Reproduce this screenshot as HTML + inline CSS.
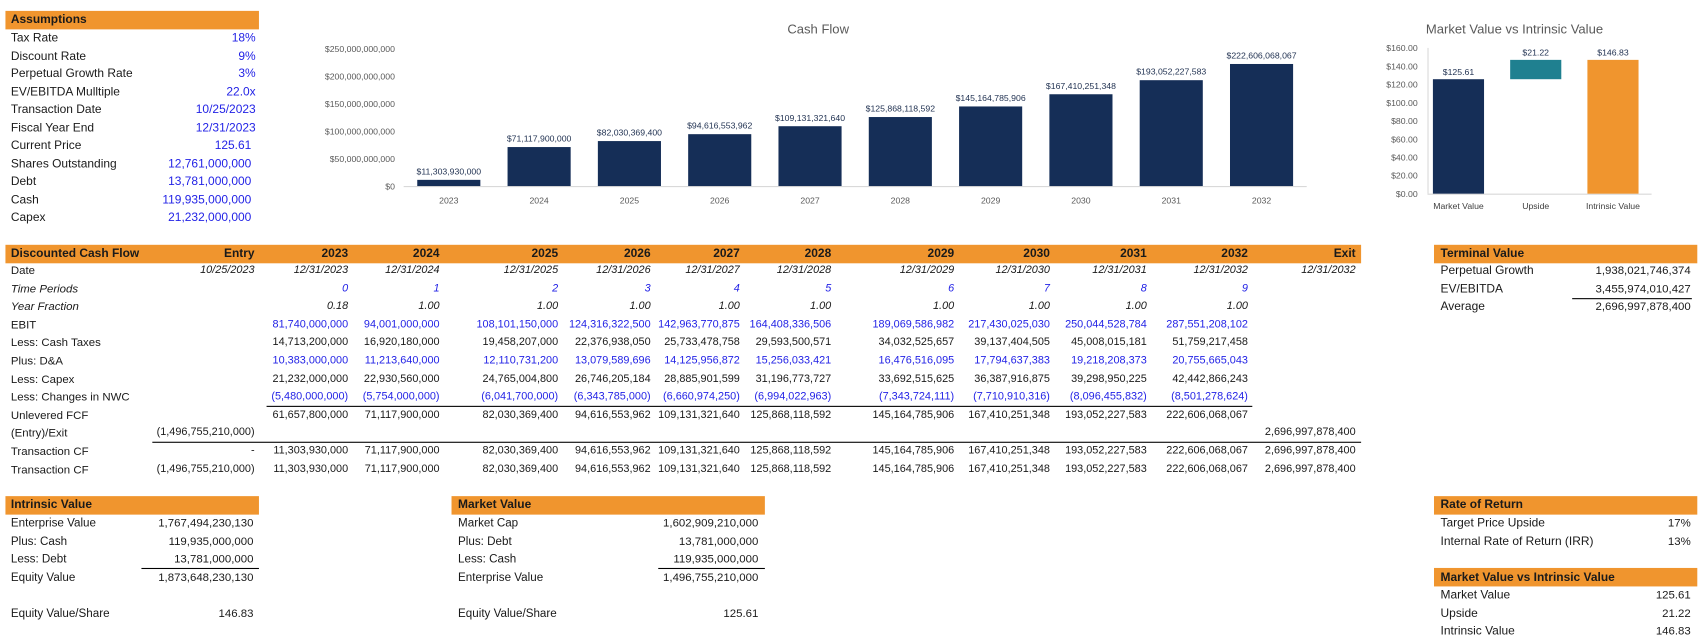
<!DOCTYPE html>
<html><head><meta charset="utf-8">
<style>
body{margin:0;width:1706px;height:643px;background:#fff;position:relative;overflow:hidden;font-family:"Liberation Sans",sans-serif;font-size:10.5px;color:#1a1a1a}
#wrap{position:absolute;left:0;top:0;width:1568px;height:591px;transform:scale(1.08801);transform-origin:0 0}
.t{position:absolute;white-space:nowrap;line-height:14px}
.hd{position:absolute;background:#f0952e;height:17px}
.ln{position:absolute;height:1px;background:#000}
.b{color:#2323e6}
svg text{font-family:"Liberation Sans",sans-serif}
</style></head>
<body>
<div id="wrap">
<div id="root"></div>
<svg id="cf" style="position:absolute;left:0;top:0" width="1568" height="210"></svg>
</div>
<script>
// ---- Cash Flow chart data ----
const cfYears = ['2023','2024','2025','2026','2027','2028','2029','2030','2031','2032'];
const cfValues = [11303930000,71117900000,82030369400,94616553962,109131321640,125868118592,145164785906,167410251348,193052227583,222606068067];
const cfLabels = ['$11,303,930,000','$71,117,900,000','$82,030,369,400','$94,616,553,962','$109,131,321,640','$125,868,118,592','$145,164,785,906','$167,410,251,348','$193,052,227,583','$222,606,068,067'];
const cfTicks = [0,50e9,100e9,150e9,200e9,250e9];
const cfTickLabels = ['$0','$50,000,000,000','$100,000,000,000','$150,000,000,000','$200,000,000,000','$250,000,000,000'];
// ---- Market vs intrinsic chart data ----
const mvCats = ['Market Value','Upside','Intrinsic Value'];
const mvBase = [0,125.61,0];
const mvValues = [125.61,21.22,146.83];
const mvLabels = ['$125.61','$21.22','$146.83'];
const mvColors = ['#152e57','#1f8090','#f0952e'];
const mvTicks = [0,20,40,60,80,100,120,140,160];
const mvTickLabels = ['$0.00','$20.00','$40.00','$60.00','$80.00','$100.00','$120.00','$140.00','$160.00'];

const NS='http://www.w3.org/2000/svg';
const svg=document.getElementById('cf');
function sv(tag,attrs,txt){const e=document.createElementNS(NS,tag);for(const k in attrs)e.setAttribute(k,attrs[k]);if(txt!==undefined)e.textContent=txt;svg.appendChild(e);return e;}

const cfX0=371,cfX1=1201,cfY0=171,cfY1=45;
const cfBand=(cfX1-cfX0)/cfYears.length;
function cfY(v){return cfY0-(v/250e9)*(cfY0-cfY1);}
function cfXc(i){return cfX0+cfBand*(i+0.5);}
let e=sv('text',{x:752,y:31,'text-anchor':'middle','font-size':12,fill:'#595959'},'Cash Flow');


cfTicks.forEach((t,i)=>{
  const el=sv('text',{x:363,y:cfY(t)+3,'text-anchor':'end','font-size':8,fill:'#595959'},cfTickLabels[i]);
  
  
});
e=sv('line',{x1:cfX0,x2:cfX1,y1:cfY0+0.5,y2:cfY0+0.5,stroke:'#d9d9d9'});


cfValues.forEach((v,i)=>{
  const w=58,x=cfXc(i)-w/2,y=cfY(v);
  const r=sv('rect',{x:x,y:y,width:w,height:cfY0-y,fill:'#152e57'});
  
  
  const l=sv('text',{x:cfXc(i),y:y-5,'text-anchor':'middle','font-size':8,fill:'#1f3050'},cfLabels[i]);
  
  
  const c=sv('text',{x:cfXc(i),y:187,'text-anchor':'middle','font-size':8,fill:'#595959'},cfYears[i]);
  
  
});

const mvX0=1305,mvX1=1518,mvY0=178,mvY1=44;
const mvBand=(mvX1-mvX0)/mvCats.length;
function mvY(v){return mvY0-(v/160)*(mvY0-mvY1);}
function mvXc(i){return mvX0+mvBand*(i+0.5);}
e=sv('text',{x:1392,y:31,'text-anchor':'middle','font-size':12,fill:'#595959'},'Market Value vs Intrinsic Value');


mvTicks.forEach((t,i)=>{
  const el=sv('text',{x:1303,y:mvY(t)+3,'text-anchor':'end','font-size':8,fill:'#595959'},mvTickLabels[i]);
  
  
});
e=sv('line',{x1:1312.5,x2:1312.5,y1:mvY1,y2:mvY0,stroke:'#d9d9d9'});


e=sv('line',{x1:1312,x2:mvX1,y1:mvY0+0.5,y2:mvY0+0.5,stroke:'#d9d9d9'});


mvValues.forEach((v,i)=>{
  const w=47,x=mvXc(i)-w/2,yt=mvY(mvBase[i]+v),yb=mvY(mvBase[i]);
  const r=sv('rect',{x:x,y:yt,width:w,height:yb-yt,fill:mvColors[i]});
  
  
  const l=sv('text',{x:mvXc(i),y:yt-4,'text-anchor':'middle','font-size':8,fill:'#1f3050'},mvLabels[i]);
  
  
  const c=sv('text',{x:mvXc(i),y:192,'text-anchor':'middle','font-size':8,fill:'#404040'},mvCats[i]);
  
  
});

const root=document.getElementById('root');
function txt(x,y,s,right,cls,name,style,fs){
  const d=document.createElement('div');
  d.className='t'+(cls?' '+cls:'');
  d.textContent=s;
  if(right){d.style.right=(1568-x)+'px';}else{d.style.left=x+'px';}
  d.style.top=(y-7)+'px';
  d.style.fontSize=(fs||(right?10:11))+'px';
  if(style)d.setAttribute('style',d.getAttribute('style')+';'+style);
  
  
  root.appendChild(d);
}
function hdr(x,y,w,name){
  const d=document.createElement('div');d.className='hd';
  d.style.left=x+'px';d.style.top=y+'px';d.style.width=w+'px';
  
  
  root.appendChild(d);
}
function line(x,y,w,name){
  const d=document.createElement('div');d.className='ln';
  d.style.left=x+'px';d.style.top=y+'px';d.style.width=w+'px';
  
  
  root.appendChild(d);
}
const B='font-weight:bold';

hdr(5,10,233,'assumptions-header');
txt(10,18,'Assumptions',0,'','assumptions-title',B,11);
const aL=['Tax Rate','Discount Rate','Perpetual Growth Rate','EV/EBITDA Mulltiple','Transaction Date','Fiscal Year End','Current Price','Shares Outstanding','Debt','Cash','Capex'];
const aV=['18%','9%','3%','22.0x','10/25/2023','12/31/2023','125.61','12,761,000,000','13,781,000,000','119,935,000,000','21,232,000,000'];
aL.forEach((l,i)=>{const y=35+i*16.5;txt(10,y,l,0,'','assumption-label','',11);txt(i<6?235:231,y,aV[i],1,'b','assumption-value','',11);});

hdr(5,225,1246,'dcf-header');
const cols=[234,320,404,513,598,680,764,877,965,1054,1147,1246];
const hd=['Entry','2023','2024','2025','2026','2027','2028','2029','2030','2031','2032','Exit'];
txt(10,233,'Discounted Cash Flow',0,'','dcf-title',B,11);
hd.forEach((h,i)=>txt(cols[i],233,h,1,'','dcf-col-header',B,11));
const rows=[
 ['Date',['10/25/2023','12/31/2023','12/31/2024','12/31/2025','12/31/2026','12/31/2027','12/31/2028','12/31/2029','12/31/2030','12/31/2031','12/31/2032','12/31/2032'],'','fi',0],
 ['Time Periods',['','0','1','2','3','4','5','6','7','8','9',''],'b','i',1],
 ['Year Fraction',['','0.18','1.00','1.00','1.00','1.00','1.00','1.00','1.00','1.00','1.00',''],'','i',1],
 ['EBIT',['','81,740,000,000','94,001,000,000','108,101,150,000','124,316,322,500','142,963,770,875','164,408,336,506','189,069,586,982','217,430,025,030','250,044,528,784','287,551,208,102',''],'b','',0],
 ['Less: Cash Taxes',['','14,713,200,000','16,920,180,000','19,458,207,000','22,376,938,050','25,733,478,758','29,593,500,571','34,032,525,657','39,137,404,505','45,008,015,181','51,759,217,458',''],'','',0],
 ['Plus: D&A',['','10,383,000,000','11,213,640,000','12,110,731,200','13,079,589,696','14,125,956,872','15,256,033,421','16,476,516,095','17,794,637,383','19,218,208,373','20,755,665,043',''],'b','',0],
 ['Less: Capex',['','21,232,000,000','22,930,560,000','24,765,004,800','26,746,205,184','28,885,901,599','31,196,773,727','33,692,515,625','36,387,916,875','39,298,950,225','42,442,866,243',''],'','',0],
 ['Less: Changes in NWC',['','(5,480,000,000)','(5,754,000,000)','(6,041,700,000)','(6,343,785,000)','(6,660,974,250)','(6,994,022,963)','(7,343,724,111)','(7,710,910,316)','(8,096,455,832)','(8,501,278,624)',''],'b','',0],
 ['Unlevered FCF',['','61,657,800,000','71,117,900,000','82,030,369,400','94,616,553,962','109,131,321,640','125,868,118,592','145,164,785,906','167,410,251,348','193,052,227,583','222,606,068,067',''],'','',0],
 ['(Entry)/Exit',['(1,496,755,210,000)','','','','','','','','','','','2,696,997,878,400'],'','',0],
 ['Transaction CF',['-','11,303,930,000','71,117,900,000','82,030,369,400','94,616,553,962','109,131,321,640','125,868,118,592','145,164,785,906','167,410,251,348','193,052,227,583','222,606,068,067','2,696,997,878,400'],'','',0],
 ['Transaction CF',['(1,496,755,210,000)','11,303,930,000','71,117,900,000','82,030,369,400','94,616,553,962','109,131,321,640','125,868,118,592','145,164,785,906','167,410,251,348','193,052,227,583','222,606,068,067','2,696,997,878,400'],'','',0],
];
rows.forEach((r,i)=>{
  const y=249+i*16.6;
  txt(10,y,r[0],0,'','dcf-row-label',r[4]?'font-style:italic':'',10.5);
  r[1].forEach((v,j)=>{if(v)txt(cols[j],y,v,1,r[2],'dcf-cell',r[3]?'font-style:italic':'',10);});
});
line(245,373,906,'subtotal-rule');
line(140,406,1111,'transaction-rule');

hdr(1318,225,242,'terminal-value-header');
txt(1324,233,'Terminal Value',0,'','terminal-value-title',B,11);
[['Perpetual Growth','1,938,021,746,374'],['EV/EBITDA','3,455,974,010,427'],['Average','2,696,997,878,400']].forEach((r,i)=>{
  const y=249+i*16.6;txt(1324,y,r[0],0,'','tv-label','',11);txt(1554,y,r[1],1,'','tv-value','',10.5);});
line(1445,274,110,'tv-rule');

hdr(5,456,233,'intrinsic-value-header');
txt(10,464,'Intrinsic Value',0,'','intrinsic-title',B,11);
[['Enterprise Value','1,767,494,230,130',481],['Plus: Cash','119,935,000,000',498],['Less: Debt','13,781,000,000',514],['Equity Value','1,873,648,230,130',531],['Equity Value/Share','146.83',564]].forEach(r=>{
  txt(10,r[2],r[0],0,'','intrinsic-label','',10.7);txt(233,r[2],r[1],1,'','intrinsic-value','',10.5);});
line(130,522,108,'intrinsic-rule');

hdr(415,456,288,'market-value-header');
txt(421,464,'Market Value',0,'','market-title',B,11);
[['Market Cap','1,602,909,210,000',481],['Plus: Debt','13,781,000,000',498],['Less: Cash','119,935,000,000',514],['Enterprise Value','1,496,755,210,000',531],['Equity Value/Share','125.61',564]].forEach(r=>{
  txt(421,r[2],r[0],0,'','market-label','',10.7);txt(697,r[2],r[1],1,'','market-value','',10.5);});
line(605,522,98,'market-rule');

hdr(1318,456,242,'rate-of-return-header');
txt(1324,464,'Rate of Return',0,'','ror-title',B,11);
txt(1324,481,'Target Price Upside',0,'','ror-label','',11);txt(1554,481,'17%',1,'','ror-value','',10.5);
txt(1324,498,'Internal Rate of Return (IRR)',0,'','ror-label','width:188px;overflow:hidden',11);txt(1554,498,'13%',1,'','ror-value','',10.5);

hdr(1318,522,242,'mv-vs-iv-header');
txt(1324,531,'Market Value vs Intrinsic Value',0,'','mv-vs-iv-title',B,11);
[['Market Value','125.61',547],['Upside','21.22',564],['Intrinsic Value','146.83',580]].forEach(r=>{
  txt(1324,r[2],r[0],0,'','mvi-label','',11);txt(1554,r[2],r[1],1,'','mvi-value','',10.5);});
</script>
</body></html>
